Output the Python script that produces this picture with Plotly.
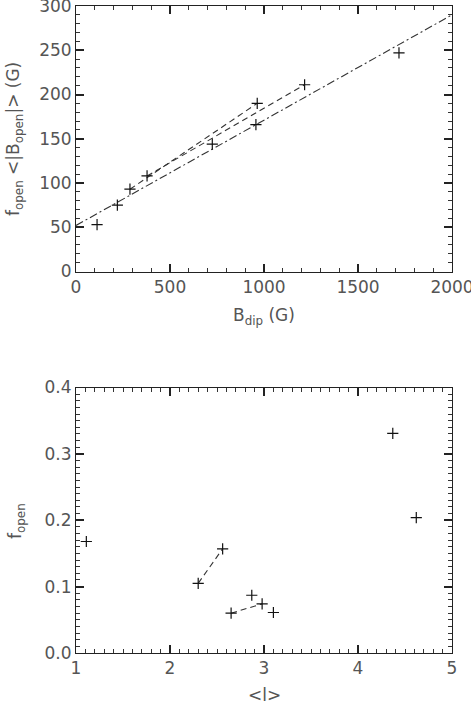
import plotly.graph_objects as go
from plotly.subplots import make_subplots

# Top panel: f_open <|B_open|> vs B_dip
bdip = [112, 220, 287, 378, 725, 964, 957, 1216, 1718]
fb_open = [53, 75, 93, 108, 144, 190, 166, 211, 247]
# dashed connectors (pairs)
dash1_x = [287, 964]
dash1_y = [93, 190]
dash2_x = [378, 1216]
dash2_y = [108, 211]
# dash-dot fit
fit_x = [0, 2000]
fit_y = [52, 290]

# Bottom panel: f_open vs <l>
lmean = [1.11, 2.30, 2.56, 2.65, 2.87, 2.98, 3.10, 4.37, 4.62]
fopen = [0.168, 0.105, 0.157, 0.060, 0.087, 0.074, 0.061, 0.331, 0.204]
dash3_x = [2.30, 2.56]
dash3_y = [0.105, 0.157]
dash4_x = [2.65, 2.98]
dash4_y = [0.060, 0.074]

W, H = 471, 707
L, R, T, B = 76, 452, 6, 653
FONT = "DejaVu Sans"
TXT = "#555555"

def px(x):
    return (x - L) / (R - L)

def py(y):
    return (B - y) / (B - T)

fig = make_subplots(rows=2, cols=1, vertical_spacing=116 / 647)
mk = dict(symbol="cross-thin", size=8, line=dict(width=1.2, color="#111"), color="#111")
LW = 1.1

fig.add_trace(go.Scatter(x=dash1_x, y=dash1_y, mode="lines",
                         line=dict(color="#333", width=LW, dash="6px,4px")), row=1, col=1)
fig.add_trace(go.Scatter(x=dash2_x, y=dash2_y, mode="lines",
                         line=dict(color="#333", width=LW, dash="6px,4px")), row=1, col=1)
fig.add_trace(go.Scatter(x=fit_x, y=fit_y, mode="lines",
                         line=dict(color="#333", width=LW, dash="8px,3px,2px,3px")), row=1, col=1)
fig.add_trace(go.Scatter(x=bdip, y=fb_open, mode="markers", marker=mk), row=1, col=1)

fig.add_trace(go.Scatter(x=dash3_x, y=dash3_y, mode="lines",
                         line=dict(color="#333", width=LW, dash="6px,4px")), row=2, col=1)
fig.add_trace(go.Scatter(x=dash4_x, y=dash4_y, mode="lines",
                         line=dict(color="#333", width=LW, dash="6px,4px")), row=2, col=1)
fig.add_trace(go.Scatter(x=lmean, y=fopen, mode="markers", marker=mk), row=2, col=1)

fig.update_xaxes(showline=True, linecolor="#222", mirror="allticks",
                 ticks="inside", ticklen=8, tickcolor="#222", tickwidth=1.5,
                 gridcolor="white", ticklabeloverflow="allow")
fig.update_yaxes(showline=True, linecolor="#222", mirror="allticks",
                 ticks="inside", ticklen=8, tickcolor="#222", tickwidth=1.5,
                 gridcolor="white", ticklabeloverflow="allow")

fig.update_xaxes(range=[0, 2000], dtick=500,
                 minor=dict(dtick=100, ticks="inside", ticklen=4, tickcolor="#333", tickwidth=1.2),
                 row=1, col=1)
fig.update_yaxes(range=[0, 300], dtick=50,
                 minor=dict(dtick=10, ticks="inside", ticklen=4, tickcolor="#333", tickwidth=1.2),
                 row=1, col=1)
fig.update_xaxes(range=[1, 5], dtick=1,
                 minor=dict(dtick=0.1, ticks="inside", ticklen=4, tickcolor="#333", tickwidth=1.2),
                 row=2, col=1)
fig.update_yaxes(range=[0, 0.4], dtick=0.1, tickformat=".1f",
                 minor=dict(dtick=0.01, ticks="inside", ticklen=4, tickcolor="#333", tickwidth=1.2),
                 row=2, col=1)

fig.update_layout(
    width=W, height=H, margin=dict(l=L, r=W - R, t=T, b=H - B, autoexpand=False),
    plot_bgcolor="white", showlegend=False,
    font=dict(family=FONT, size=17, color=TXT),
)

tfont = dict(family=FONT, size=17, color=TXT)
fig.add_annotation(text="B<sub>dip</sub> (G)", x=px(264), y=py(316), xref="paper", yref="paper",
                   showarrow=False, font=tfont, xanchor="center", yanchor="middle")
fig.add_annotation(text="f<sub>open</sub> &lt;|B<sub>open</sub>|&gt; (G)", x=px(15), y=py(139),
                   xref="paper", yref="paper", showarrow=False, font=tfont, textangle=-90,
                   xanchor="center", yanchor="middle")
fig.add_annotation(text="&lt;l&gt;", x=px(264), y=py(707), xref="paper", yref="paper",
                   showarrow=False, font=tfont, xanchor="center", yanchor="bottom")
fig.add_annotation(text="f<sub>open</sub>", x=px(16), y=py(521), xref="paper", yref="paper",
                   showarrow=False, font=tfont, textangle=-90, xanchor="center", yanchor="middle")

fig.write_html("out.html")
